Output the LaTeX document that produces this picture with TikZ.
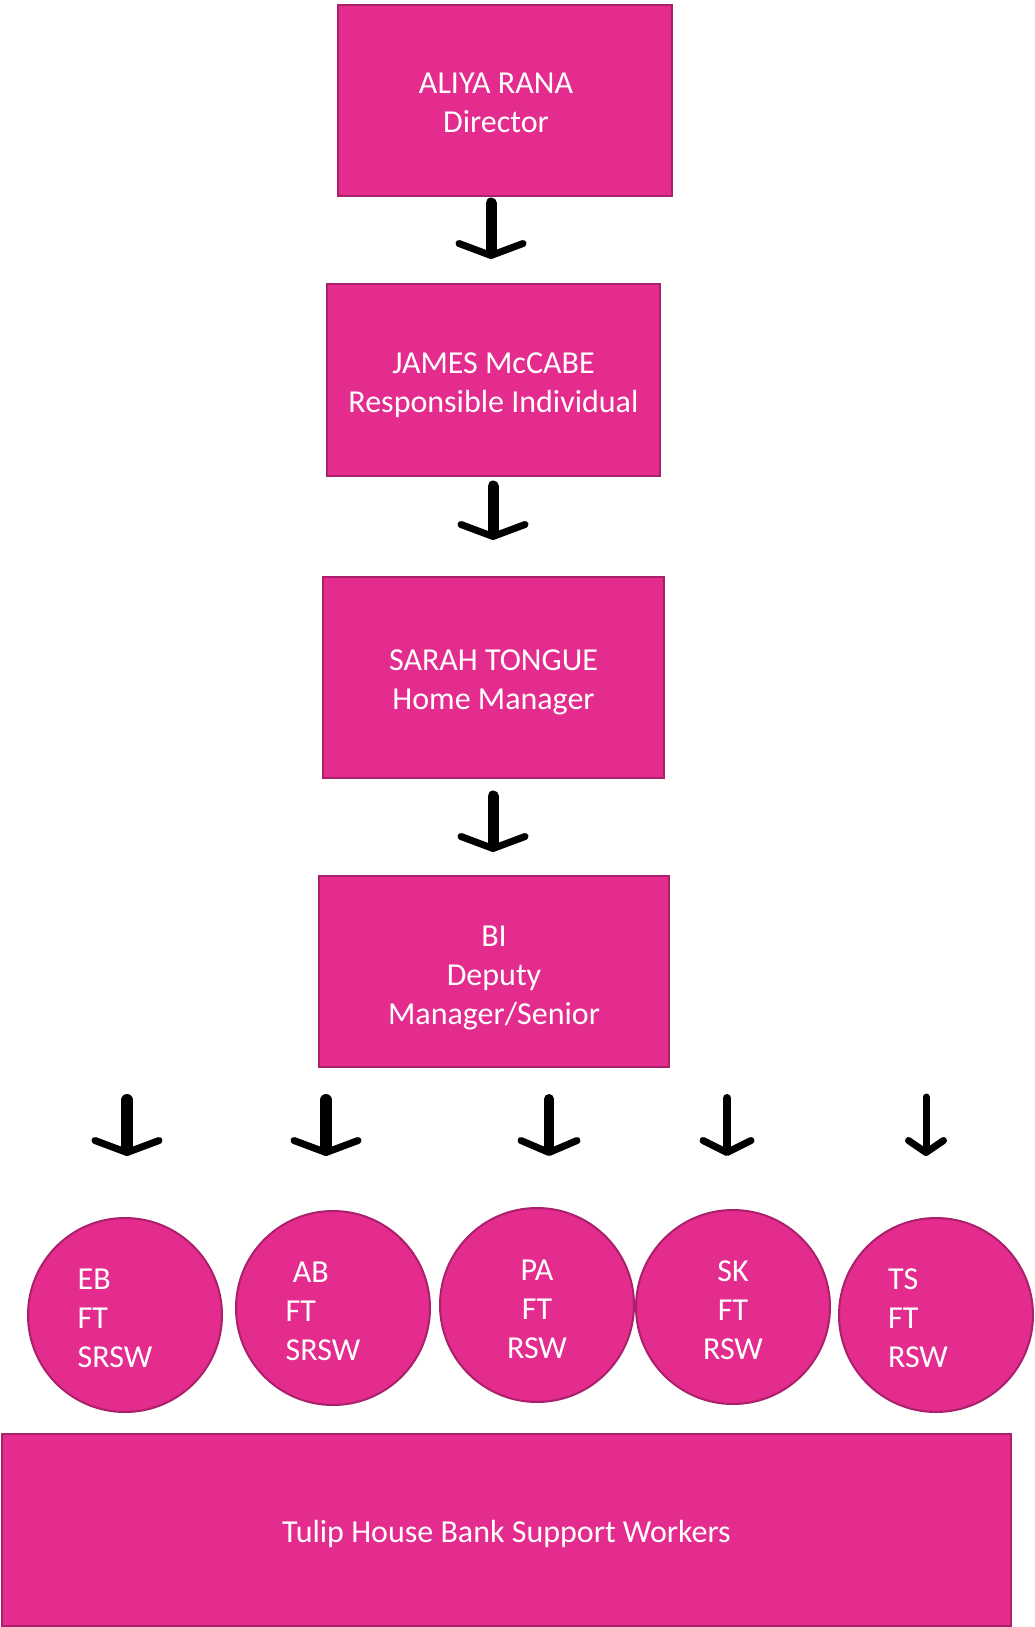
\documentclass[tikz,border=0pt]{standalone}
\usepackage{fontspec}
\setmainfont{Carlito}
\usetikzlibrary{arrows.meta}
\definecolor{tulip}{RGB}{227,44,142}
\definecolor{tulipedge}{RGB}{170,32,106}
\tikzset{
  post/.style={draw=tulipedge, line width=2pt, fill=tulip, inner sep=0pt},
  staff/.style={post, circle, minimum size=194pt},
  who/.style={text=white, align=left, font=\fontsize{32}{39}\selectfont, inner sep=0pt},
  drop/.style 2 args={line width=#1, line cap=round,
    -{Straight Barb[length=12pt, width=#2, line width=7pt, round]}}
}
\begin{document}
\begin{tikzpicture}[x=1pt, y=-1pt]
  \useasboundingbox (0,0) rectangle (1034,1627);
  % chain of posts
  \node[post, minimum width=334pt, minimum height=191pt,
    label={[who, align=center, xshift=-9pt, yshift=-2pt]center:ALIYA RANA\\Director}] (ar) at (505,100.5) {};
  \node[post, minimum width=333pt, minimum height=192pt,
    label={[who, align=center, yshift=-5pt]center:JAMES McCABE\\Responsible Individual}] (jm) at (493.5,380) {};
  \node[post, minimum width=341pt, minimum height=201pt,
    label={[who, align=center, yshift=-5pt]center:SARAH TONGUE\\Home Manager}] (st) at (493.5,677.5) {};
  \node[post, minimum width=350pt, minimum height=191pt,
    label={[who, align=center, yshift=-6pt]center:BI\\Deputy\\Manager/Senior}] (bi) at (494,971.5) {};
  % staff
  \node[staff, label={[who, xshift=-10pt, yshift=-3pt]center:EB\\FT\\SRSW}] (eb) at (125,1315) {};
  \node[staff, label={[who, xshift=-10pt, yshift=-3pt]center:\ AB\\FT\\SRSW}] (ab) at (333,1308) {};
  \node[staff, label={[who, align=center, yshift=-4pt]center:PA\\FT\\RSW}] (pa) at (537,1305) {};
  \node[staff, label={[who, align=center, yshift=-3pt]center:SK\\FT\\RSW}] (sk) at (733,1307) {};
  \node[staff, label={[who, xshift=-18pt, yshift=-3pt]center:TS\\FT\\RSW}] (ts) at (936,1315) {};
  \node[post, minimum width=1009pt, minimum height=192pt,
    label={[who, align=center, yshift=-4pt]center:Tulip House Bank Support Workers}] (bank) at (506.5,1529.5) {};
  % arrows
  \coordinate (a1) at (491,203);
  \coordinate (a1e) at (491,259);
  \coordinate (a2) at (493,486);
  \coordinate (a2e) at (493,540);
  \coordinate (a3) at (493,796);
  \coordinate (a3e) at (493,852);
  \coordinate (e1) at (127,1100);
  \coordinate (e1e) at (127,1156);
  \coordinate (e2) at (326,1100);
  \coordinate (e2e) at (326,1156);
  \coordinate (e3) at (549,1099);
  \coordinate (e3e) at (549,1156);
  \coordinate (e4) at (727,1098);
  \coordinate (e4e) at (727,1156);
  \coordinate (e5) at (926,1097);
  \coordinate (e5e) at (926,1156);
  \draw[drop={11pt}{64pt}] (a1) -- (a1e);
  \draw[drop={11pt}{64pt}] (a2) -- (a2e);
  \draw[drop={11pt}{64pt}] (a3) -- (a3e);
  \draw[drop={12pt}{64pt}] (e1) -- (e1e);
  \draw[drop={12pt}{64pt}] (e2) -- (e2e);
  \draw[drop={10pt}{56pt}] (e3) -- (e3e);
  \draw[drop={8pt}{48pt}] (e4) -- (e4e);
  \draw[drop={7pt}{35pt}] (e5) -- (e5e);
\end{tikzpicture}
\end{document}
